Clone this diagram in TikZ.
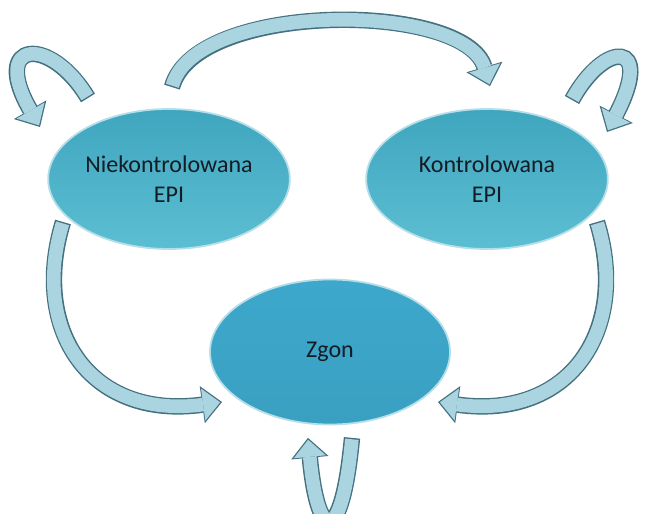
\documentclass[tikz,border=0pt]{standalone}
\usepackage{fontspec}
\setmainfont{Carlito}
\usetikzlibrary{shapes.geometric,arrows.meta}
\definecolor{stangora}{HTML}{3FA6BF}
\definecolor{standol}{HTML}{5CBED2}
\definecolor{zgongora}{HTML}{3DA8CC}
\definecolor{zgondol}{HTML}{3AA0C2}
\definecolor{obwod}{HTML}{B4DEE8}
\definecolor{pfeilrand}{HTML}{45707F}
\definecolor{pfeilfarbe}{HTML}{AAD4E0}
\definecolor{napis}{HTML}{141C24}
\begin{document}
\begin{tikzpicture}[x=0.03cm, y=-0.03cm,
		stan/.style={ellipse, inner sep=0pt, minimum width=7.25cm, minimum height=4.2cm, top color=stangora, bottom color=standol, draw=obwod, line width=1.5pt, align=center, text=napis, font=\fontsize{20.5}{25.5}\selectfont},
		pfeil/.style={line width=14pt, draw=pfeilrand, -{Triangle[length=17pt,width=32pt,line width=0pt]},
			postaction={draw=pfeilfarbe, line width=11.6pt, shorten <=1.2pt, shorten >=1.6pt, -{Triangle[length=14.6pt,width=27.5pt,line width=0pt]}}}]
		\useasboundingbox (0,0) rectangle (647,514);
		\node[stan] (nie) at (169,179) {Niekontrolowana\\EPI};
		\node[stan] (kon) at (487,179) {Kontrolowana\\EPI};
		\node[stan, top color=zgongora, bottom color=zgondol, minimum width=7.2cm, minimum height=4.35cm] (zgon) at (330,352) {Zgon};
		\coordinate (s1) at ([shift={(3,-21)}]nie.north);
		\coordinate (e1) at ([shift={(3,-22)}]kon.north);
		\coordinate (s2) at ([shift={(-81,-81)}]nie.center);
		\coordinate (e2) at ([shift={(-129,-52)}]nie.center);
		\coordinate (s3) at ([shift={(85,-79)}]kon.center);
		\coordinate (e3) at ([shift={(120,-47)}]kon.center);
		\coordinate (s4) at ([shift={(-106,43)}]nie.center);
		\coordinate (e4) at ([shift={(-108,50)}]zgon.center);
		\coordinate (s5) at ([shift={(110,43)}]kon.center);
		\coordinate (e5) at ([shift={(108,50)}]zgon.center);
		\coordinate (s6) at ([shift={(22,12.5)}]zgon.south);
		\coordinate (e6) at ([shift={(-22,12.5)}]zgon.south);
		\draw[pfeil] (s1) .. controls (195,1) and (465,1) .. (e1);
		\draw[pfeil] (s2) .. controls (50,35) and (-10,40) .. (e2);
		\draw[pfeil] (s3) .. controls (605,40) and (655,40) .. (e3);
		\draw[pfeil] (s4) .. controls (30,330) and (90,420) .. (e4);
		\draw[pfeil] (s5) .. controls (630,330) and (570,420) .. (e5);
		\draw[pfeil] (s6) .. controls (342,545) and (318,545) .. (e6);
	\end{tikzpicture}
\end{document}
